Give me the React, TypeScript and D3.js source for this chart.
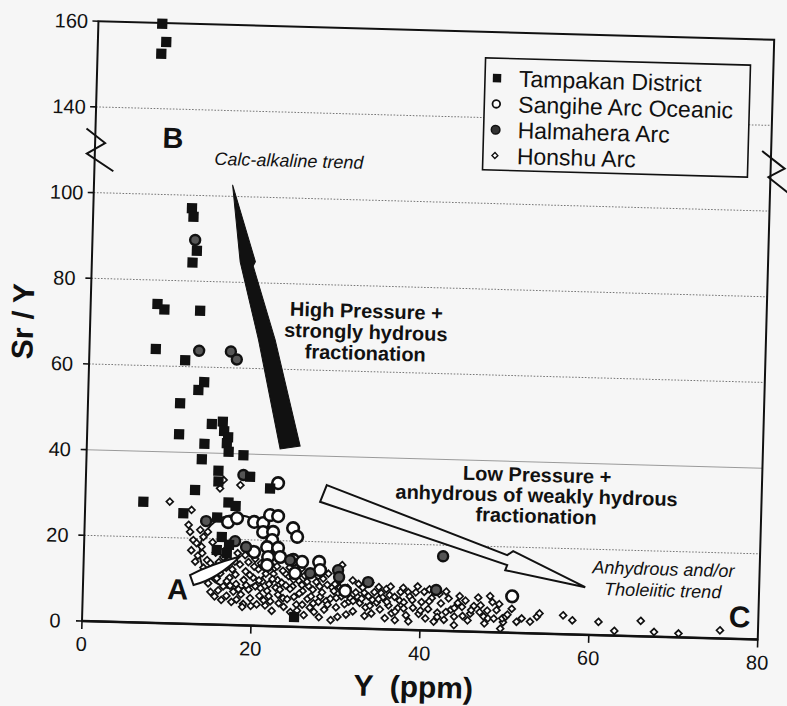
import React from "react";
import * as d3 from "d3";

const WIDTH = 787;
const HEIGHT = 706;

// Axis ticks (the Sr/Y axis is broken between 100 and 140)
const xTickValues = [0, 20, 40, 60, 80];
const yTickValues = [0, 20, 40, 60, 80, 100, 140, 160];
const gridValues = [20, 40, 60, 80, 100, 140];

const legendLabels = ["Tampakan District", "Sangihe Arc Oceanic", "Halmahera Arc", "Honshu Arc"];

// [Y (ppm), Sr/Y]
const tampakan: [number, number][] = [
  [7.56, 159.8], [8.09, 155.6], [7.54, 152.8],
  [11.67, 97.0], [11.88, 95.0], [12.39, 87.1], [11.91, 84.3],
  [7.9, 74.4], [8.74, 73.2], [12.97, 73.1],
  [7.85, 63.9], [11.36, 61.5],
  [13.68, 56.5], [13.02, 54.6], [10.9, 51.4],
  [14.72, 46.8], [16.01, 47.4], [10.88, 44.2], [16.2, 45.2], [16.69, 43.8], [16.56, 42.4],
  [13.91, 42.1], [16.8, 40.4], [18.56, 39.7], [13.65, 38.5],
  [15.65, 35.9], [19.42, 34.7], [15.69, 33.4], [21.82, 32.1], [12.95, 31.3],
  [6.87, 28.2], [16.94, 28.6], [17.8, 27.8], [11.64, 25.8], [15.65, 25.0],
  [16.26, 20.5], [17.15, 18.7], [15.71, 17.4], [16.91, 16.7],
  [25.08, 2.27],
];

const sangihe: [number, number][] = [
  [22.75, 33.4], [16.96, 24.0], [18.01, 25.0], [20.04, 24.2], [21.11, 24.0], [21.91, 25.9],
  [22.86, 25.7], [21.14, 21.9], [22.32, 22.0], [24.67, 23.0], [25.18, 21.0], [22.23, 20.1],
  [21.66, 18.4], [22.96, 18.3], [20.13, 17.2], [21.81, 16.1], [23.23, 16.2], [24.78, 15.6],
  [25.85, 15.2], [21.71, 14.2], [25.05, 12.5], [27.86, 15.3], [28.0, 13.4], [31.03, 8.7],
  [50.81, 8.5],
];

const halmahera: [number, number][] = [
  [12.15, 89.6], [12.98, 63.8], [16.74, 63.8], [17.47, 62.0], [18.62, 35.1], [14.36, 24.1],
  [17.85, 19.6], [19.17, 18.3], [24.42, 15.5], [26.83, 12.6], [30.13, 13.5], [30.27, 11.9],
  [33.72, 10.9], [42.51, 17.4], [41.79, 9.5],
];

const honshu: [number, number][] = [
  [10.0, 28.4], [12.6, 26.6], [16.3, 33.8], [15.9, 31.8], [18.3, 32.7],
  [12.3, 23.1], [12.5, 21.5], [12.9, 19.6], [13.7, 22.0], [14.1, 20.4], [13.9, 18.1], [13.3, 18.9],
  [12.7, 17.2], [13.5, 16.0], [14.6, 15.0], [15.0, 14.3], [14.2, 13.2], [15.6, 16.8], [15.3, 12.0],
  [14.8, 9.6], [15.8, 10.8], [16.2, 12.0], [16.0, 14.6], [16.6, 9.0], [16.9, 13.4], [17.3, 11.0],
  [17.8, 7.8], [17.2, 15.2], [17.6, 13.0], [18.1, 9.6], [18.0, 11.8], [18.5, 14.2], [18.7, 7.2],
  [19.0, 10.6], [19.2, 12.6], [19.6, 8.4], [19.8, 6.4], [19.5, 14.8], [20.1, 11.2], [20.4, 9.2],
  [20.7, 13.2], [20.9, 7.0], [21.2, 10.4], [21.6, 12.2], [21.8, 8.2],
  [15.6, 6.6], [16.4, 5.8], [17.0, 6.8], [17.6, 5.4], [18.2, 6.0], [19.0, 5.0], [19.9, 4.6],
  [16.0, 8.0], [17.4, 9.2], [18.9, 4.3],
  [14.4, 11.0], [15.1, 7.6], [15.9, 12.8], [16.5, 15.8], [17.0, 10.2], [17.9, 14.8], [18.4, 8.4],
  [19.3, 9.4], [19.7, 11.8], [20.2, 13.8], [20.8, 10.6], [21.4, 13.6], [22.0, 9.8], [22.5, 12.2],
  [23.0, 10.8], [23.7, 6.6], [24.3, 11.8], [24.8, 9.4], [25.5, 10.8], [26.0, 8.4], [26.7, 9.6],
  [27.3, 5.6], [28.1, 7.2], [28.8, 6.2], [29.5, 9.4], [30.4, 9.4], [31.5, 6.2], [32.5, 7.4],
  [33.3, 8.4], [34.3, 6.8], [35.3, 8.4], [36.3, 8.0], [37.5, 6.8], [38.5, 8.8], [14.0, 16.6],
  [13.2, 14.6], [19.1, 16.4], [18.2, 16.8], [16.8, 17.6], [15.2, 19.2], [14.6, 21.6],
  [22.2, 5.8], [22.4, 11.0], [22.8, 9.0], [22.6, 13.6], [23.1, 7.4], [23.5, 10.2], [23.9, 12.4],
  [24.2, 6.4], [24.5, 8.8], [24.9, 11.0], [25.3, 5.2], [25.6, 7.8], [25.9, 9.8], [26.2, 12.0],
  [26.6, 6.6], [26.9, 4.6], [27.2, 8.8], [27.6, 10.6], [27.9, 6.0], [28.3, 8.2], [28.6, 4.2],
  [28.9, 10.0], [29.3, 6.8], [29.7, 8.6], [30.0, 4.8], [30.3, 11.0], [30.6, 7.4], [31.0, 5.6],
  [31.3, 9.4], [31.7, 7.0], [32.0, 4.0], [32.3, 8.4], [32.8, 6.0], [33.1, 9.6], [33.5, 5.0],
  [33.8, 7.6], [34.2, 3.6], [34.5, 8.6], [34.8, 6.2], [35.2, 4.6], [35.5, 7.4], [35.9, 9.4],
  [36.2, 5.6], [36.6, 3.8], [36.9, 7.6], [37.3, 5.0], [37.6, 8.8], [38.0, 6.4], [38.3, 3.4],
  [38.7, 7.8], [39.1, 5.2], [39.4, 8.8], [39.8, 3.8], [40.1, 6.6], [40.6, 2.8], [40.9, 5.0],
  [41.3, 7.6], [41.6, 2.1], [42.0, 4.2], [42.4, 6.4], [42.8, 2.6], [43.3, 7.6], [43.6, 5.0],
  [44.0, 3.4], [44.4, 6.6], [44.9, 5.7], [45.3, 7.2], [45.9, 4.2], [46.3, 6.0], [47.1, 6.2],
  [47.5, 3.6], [47.9, 5.0], [48.5, 7.0], [49.0, 5.2],
  [20.3, 15.6], [21.0, 14.6], [21.9, 15.0], [22.9, 14.0], [23.6, 13.0], [24.4, 13.8], [25.1, 12.8],
  [25.8, 13.6], [26.5, 10.6], [27.0, 12.6], [27.8, 12.0], [28.4, 11.4], [29.0, 12.6], [29.8, 10.2],
  [20.6, 5.0], [21.6, 4.8], [22.4, 3.6], [23.2, 5.4], [21.4, 6.0], [23.8, 4.6], [24.6, 3.4],
  [25.4, 3.8], [26.2, 2.8], [27.4, 3.6], [28.0, 2.4], [29.4, 1.8], [30.2, 2.6], [31.2, 3.2],
  [31.9, 11.2], [32.6, 10.4], [33.4, 3.0], [34.0, 10.8], [35.0, 9.8], [35.8, 2.6], [36.4, 10.0],
  [37.0, 2.2], [37.9, 9.8], [38.6, 2.0], [39.6, 10.2], [40.4, 9.0], [41.0, 9.6], [42.2, 8.6],
  [43.0, 9.2], [44.6, 8.2], [45.6, 2.6], [46.8, 8.0], [47.6, 2.0], [48.2, 8.4], [49.3, 6.6],
  [49.8, 2.4], [50.8, 5.6], [51.4, 2.6], [44.0, 1.4],
  [21.0, 8.8], [22.0, 7.0], [23.3, 8.6], [24.0, 9.6], [25.0, 7.0], [26.0, 5.2], [27.0, 7.2],
  [28.0, 9.6], [29.0, 5.4], [30.0, 7.0], [31.0, 8.0], [32.0, 6.4], [33.0, 7.0], [34.0, 5.4],
  [35.0, 7.0], [36.0, 6.4], [37.0, 4.2], [38.0, 5.0], [39.0, 7.0], [40.0, 4.6], [41.0, 6.8],
  [42.0, 3.2], [43.0, 4.4], [44.0, 5.4], [45.0, 3.6], [46.0, 5.0], [47.0, 4.6], [48.0, 3.2],
  [30.6, 14.7], [48.7, 3.2], [49.7, 3.3],
  [49.5, 0.9], [50.1, 3.7], [50.3, 4.2], [52.0, 3.4], [53.0, 2.7], [53.8, 3.9], [54.1, 4.7],
  [56.9, 4.4], [58.0, 3.3], [61.1, 3.1], [63.0, 1.1], [66.1, 3.6], [67.7, 1.1], [70.6, 0.9],
  [75.5, 1.9],
];

// Trend arrows and the field outline, in data units
const calcAlkalineArrow: [number, number][] = [
  [16.4, 105.4], [19.35, 84.9], [19.1, 83.9], [21.94, 66.8], [25.24, 42.2],
  [22.88, 41.4], [19.97, 66.7], [17.55, 84.75],
];
const tholeiiticArrow: [number, number][] = [
  [28.52, 33.27], [50.09, 18.08], [50.78, 19.05], [59.42, 11.1], [49.9, 14.56],
  [50.12, 15.74], [27.78, 29.33],
];
const smallArrow = {
  tailTop: [12.63, 11.41], topCtrl: [15.09, 14.05], tip: [18.49, 16.04],
  bottomCtrl: [15.87, 10.6], tailBottom: [13.08, 9.1],
};
const fieldA = { cx: 18.0, cy: 17.1, rx: 4.3, ry: 8.6 };

const FONT = "'Liberation Sans', Arial, Helvetica, sans-serif";
const INK = "#111";
const PAPER = "#f6f6f6";

export default function App() {
  const step = 600 / 7;
  const x = d3.scaleLinear().domain([0, 80]).range([82, 758]);
  const y = d3
    .scaleLinear()
    .domain([0, 100, 140, 160])
    .range([621, 621 - 5 * step, 621 - 6 * step, 21]);

  const tilt = 1.57;
  const x0 = x(0);
  const x1 = x(80);
  const yBreak = y(120);

  const polygon = d3
    .line<[number, number]>()
    .x((d) => x(d[0]))
    .y((d) => y(d[1]))
    .curve(d3.curveLinearClosed);

  const sa = smallArrow;
  const sp = d3.path();
  sp.moveTo(x(sa.tailTop[0]), y(sa.tailTop[1]));
  sp.quadraticCurveTo(x(sa.topCtrl[0]), y(sa.topCtrl[1]), x(sa.tip[0]), y(sa.tip[1]));
  sp.quadraticCurveTo(x(sa.bottomCtrl[0]), y(sa.bottomCtrl[1]), x(sa.tailBottom[0]), y(sa.tailBottom[1]));
  sp.closePath();

  const squarePath = d3.symbol(d3.symbolSquare, 105)() as string;
  const diamondPath = d3.symbol(d3.symbolDiamond2, 30)() as string;
  const legendSquare = d3.symbol(d3.symbolSquare, 70)() as string;
  const legendDiamond = d3.symbol(d3.symbolDiamond2, 22)() as string;

  const zig = (bx: number, by: number, pts: [number, number][]) =>
    pts.map(([dx, dy]) => `${bx + dx},${by + dy}`).join(" ");

  const legendX = 470;
  const legendY = 47;
  const rowBase = 75;
  const rowGap = 25.8;

  return (
    <svg
      width={WIDTH}
      height={HEIGHT}
      style={{ position: "absolute", left: 0, top: 0, display: "block", background: PAPER }}
      fontFamily={FONT}
    >
      <rect x={0} y={0} width={WIDTH} height={HEIGHT} fill={PAPER} />
      <g transform={`rotate(${tilt}, ${x0}, ${y(0)})`}>
        {/* gridlines */}
        {gridValues.map((v) => (
          <line
            key={`g${v}`}
            x1={x0}
            x2={x1}
            y1={y(v)}
            y2={y(v)}
            stroke={v === 40 ? "#9a9a9a" : "#777"}
            strokeWidth={1}
            strokeDasharray={v === 40 ? undefined : "1.6 1.6"}
          />
        ))}

        {/* field A outline */}
        <ellipse
          cx={x(fieldA.cx)}
          cy={y(fieldA.cy)}
          rx={x(fieldA.cx + fieldA.rx) - x(fieldA.cx)}
          ry={y(fieldA.cy - fieldA.ry) - y(fieldA.cy)}
          fill="none"
          stroke={INK}
          strokeWidth={2}
        />

        {/* trend arrows */}
        <path d={polygon(calcAlkalineArrow) as string} fill={INK} stroke={INK} strokeWidth={1} />
        <path d={polygon(tholeiiticArrow) as string} fill={PAPER} stroke={INK} strokeWidth={2} strokeLinejoin="miter" />

        {/* Honshu Arc */}
        {honshu.map((d, i) => (
          <path key={`h${i}`} d={diamondPath} transform={`translate(${x(d[0])},${y(d[1])})`} fill="#fff" stroke={INK} strokeWidth={1.7} />
        ))}
        {/* Sangihe Arc Oceanic */}
        {sangihe.map((d, i) => (
          <circle key={`s${i}`} cx={x(d[0])} cy={y(d[1])} r={5.8} fill="#fff" stroke={INK} strokeWidth={2.6} />
        ))}
        {/* Halmahera Arc */}
        {halmahera.map((d, i) => (
          <circle key={`m${i}`} cx={x(d[0])} cy={y(d[1])} r={5} fill="#555" stroke={INK} strokeWidth={2.4} />
        ))}
        {/* Tampakan District */}
        {tampakan.map((d, i) => (
          <path key={`t${i}`} d={squarePath} transform={`translate(${x(d[0])},${y(d[1])})`} fill={INK} />
        ))}

        <path d={sp.toString()} fill="#fff" stroke={INK} strokeWidth={2} />

        {/* frame and axes */}
        <rect x={x0} y={y(160)} width={x1 - x0} height={y(0) - y(160)} fill="none" stroke={INK} strokeWidth={2} />
        <line x1={x0} x2={x1} y1={y(0)} y2={y(0)} stroke={INK} strokeWidth={2.6} />

        {/* axis breaks */}
        <polyline
          points={zig(x0, yBreak, [[-9, -21], [10, -7], [-8, 4], [19, 21]])}
          fill="none"
          stroke={INK}
          strokeWidth={2}
        />
        <polyline
          points={zig(x1, yBreak, [[-9, -17], [14, 0], [-2, 9], [18, 24]])}
          fill="none"
          stroke={INK}
          strokeWidth={2}
        />

        {/* y ticks */}
        {yTickValues.map((v) => (
          <g key={`yt${v}`}>
            <line x1={x0 - 6} x2={x0} y1={y(v)} y2={y(v)} stroke={INK} strokeWidth={1.6} />
            <text x={x0 - 27} y={y(v)} dy="0.36em" textAnchor="middle" fontSize={20} fill={INK}>
              {v}
            </text>
          </g>
        ))}
        {/* x ticks */}
        {xTickValues.map((v) => (
          <g key={`xt${v}`}>
            <line x1={x(v)} x2={x(v)} y1={y(0)} y2={y(0) + 8} stroke={INK} strokeWidth={1.6} />
            <text x={x(v)} y={y(0) + 30} textAnchor="middle" fontSize={20} fill={INK}>
              {v}
            </text>
          </g>
        ))}

        {/* axis titles */}
        <text
          x={(x0 + x1) / 2 - 5}
          y={y(0) + 67}
          textAnchor="middle"
          fontSize={30}
          fontWeight="bold"
          fill={INK}
          style={{ whiteSpace: "pre" }}
        >
          {"Y  (ppm)"}
        </text>
        <text
          transform={`translate(25, ${(y(0) + y(160)) / 2 + 2}) rotate(-90)`}
          textAnchor="middle"
          fontSize={30}
          fontWeight="bold"
          fill={INK}
        >
          Sr / Y
        </text>

        {/* annotations */}
        <text x={x(7.96)} y={y(121.8)} fontSize={29} fontWeight="bold" fill={INK}>B</text>
        <text x={x(9.99)} y={y(5.67)} fontSize={29} fontWeight="bold" fill={INK}>A</text>
        <text x={x(76.5)} y={y(2.74)} fontSize={30} fontWeight="bold" fill={INK}>C</text>
        <text x={x(14.16)} y={y(114.5)} fontSize={18} fontStyle="italic" fill={INK}>
          Calc-alkaline trend
        </text>
        <text x={x(32.64)} y={y(72.5)} fontSize={20} fontWeight="bold" textAnchor="middle" fill={INK}>
          <tspan x={x(32.64)} dy={0}>High Pressure +</tspan>
          <tspan x={x(32.64)} dy={21}>strongly hydrous</tspan>
          <tspan x={x(32.64)} dy={21}>fractionation</tspan>
        </text>
        <text x={x(53.37)} y={y(35.36)} fontSize={20} fontWeight="bold" textAnchor="middle" fill={INK}>
          <tspan x={x(53.37)} dy={0}>Low Pressure +</tspan>
          <tspan x={x(53.37)} dy={20.5}>anhydrous of weakly hydrous</tspan>
          <tspan x={x(53.37)} dy={20.5}>fractionation</tspan>
        </text>
        <text x={x(68.61)} y={y(14.39)} fontSize={18} fontStyle="italic" textAnchor="middle" fill={INK}>
          <tspan x={x(68.61)} dy={0}>Anhydrous and/or</tspan>
          <tspan x={x(68.61)} dy={21.5}>Tholeiitic trend</tspan>
        </text>

        {/* legend */}
        <rect x={legendX} y={legendY} width={265} height={112} fill={PAPER} stroke={INK} strokeWidth={1.6} />
        {legendLabels.map((label, i) => {
          const by = rowBase + i * rowGap;
          const cx = 482;
          const cy = by - 8;
          let sym: React.ReactNode = null;
          if (i === 0) sym = <path d={legendSquare} transform={`translate(${cx},${cy})`} fill={INK} />;
          if (i === 1) sym = <circle cx={cx} cy={cy} r={3.8} fill="#fff" stroke={INK} strokeWidth={1.8} />;
          if (i === 2) sym = <circle cx={cx} cy={cy} r={4.3} fill="#333" stroke={INK} strokeWidth={1.5} />;
          if (i === 3) sym = <path d={legendDiamond} transform={`translate(${cx},${cy})`} fill="#fff" stroke={INK} strokeWidth={1.4} />;
          return (
            <g key={label}>
              {sym}
              <text x={504} y={by} fontSize={23} fill={INK}>
                {label}
              </text>
            </g>
          );
        })}
      </g>
    </svg>
  );
}
